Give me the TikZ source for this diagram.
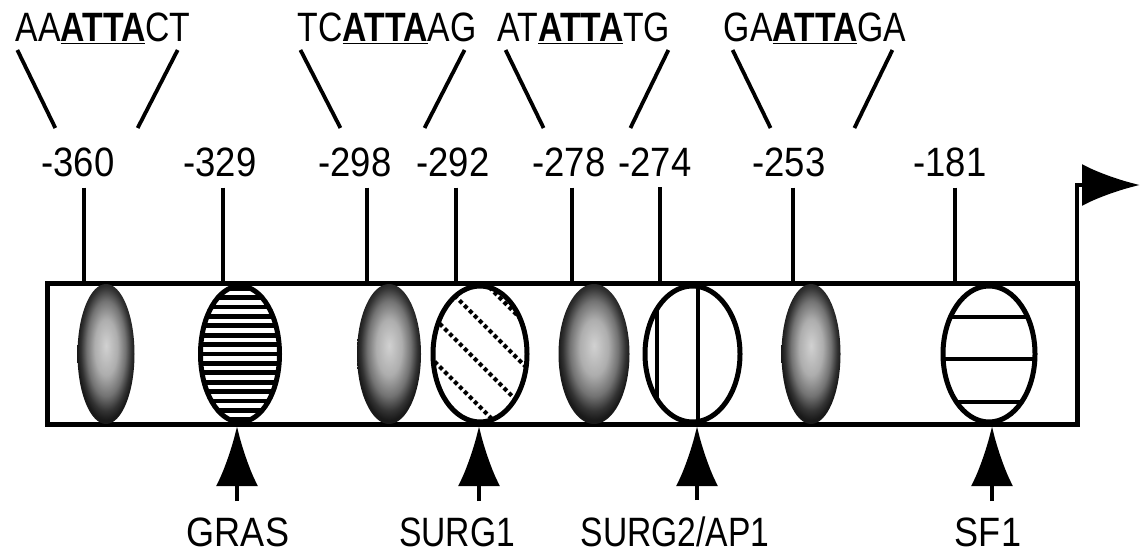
\documentclass[tikz,border=0pt]{standalone}
\usepackage{fontspec}
\setmainfont{Liberation Sans}
\usetikzlibrary{positioning,arrows.meta,shapes.geometric,calc}
\newcommand{\nrw}[2]{\scalebox{#1}[1]{#2}}
\newcommand{\core}[1]{\underline{\textbf{#1}}}
\pgfdeclareradialshading{blobshade}{\pgfpoint{0bp}{3bp}}{color(0bp)=(black!18); color(10bp)=(black!32); color(17bp)=(black!55); color(22bp)=(black!80); color(25bp)=(black!90); color(50bp)=(black!90)}

\begin{document}
\begin{tikzpicture}[x=1pt,y=-1pt,font=\fontsize{41}{41}\selectfont,
  box/.style={draw,line width=5pt,inner sep=0pt,outer sep=0pt,minimum width=1030pt,minimum height=140pt},
  num/.style={inner sep=0pt,anchor=base},
  seq/.style={inner sep=0pt,anchor=base},
  tf/.style={inner sep=0pt,anchor=base},
  tickln/.style={line width=3.8pt},
  diag/.style={line width=3.8pt},
  blob/.style={ellipse,inner sep=0pt,minimum height=140pt,shading=blobshade},
  elem/.style={ellipse,draw,line width=5pt,inner sep=0pt,minimum height=136pt,fill=white},
  uparr/.style={-{Latex[length=60pt,width=42pt]},line width=4.5pt}]
  \useasboundingbox (0,0) rectangle (1140,553);

  % promoter
  \node[box] (box) at (562,354) {};

  % binding sites
  \node[blob,minimum width=57pt] (b360) at (106,354) {};
  \node[elem,minimum width=79pt,path picture={
      \foreach \k in {-7,...,7}
        \draw[line width=4.8pt,shift={(path picture bounding box.center)}] (-60,\k*9.4) -- (60,\k*9.4);}] (e329) at (240,354) {};
  \node[blob,minimum width=64pt] (b298) at (389,354) {};
  \node[elem,minimum width=94pt,path picture={
      \foreach \c in {-76,-33,10,53}
        \draw[line width=4.2pt,dash pattern=on 4pt off 3pt,shift={(path picture bounding box.center)}] (-80,-80+\c) -- (80,80+\c);}] (e292) at (480,354) {};
  \node[blob,minimum width=71pt] (b278) at (594,354) {};
  \node[elem,minimum width=95pt,path picture={
      \draw[line width=4.5pt,shift={(path picture bounding box.center)}] (5.5,-80) -- (5.5,80) (-35.5,-80) -- (-35.5,80);}] (e274) at (692.5,354) {};
  \node[blob,minimum width=59pt] (b253) at (811,354) {};
  \node[elem,minimum width=92pt,path picture={
      \draw[line width=4.5pt,shift={(path picture bounding box.center)}] (-60,-37) -- (60,-37) (-60,5) -- (60,5) (-60,48) -- (60,48);}] (e181) at (989,354) {};

  % positions
  \coordinate (t360) at (84,284);
  \coordinate (t329) at (223,284);
  \coordinate (t298) at (367,284);
  \coordinate (t292) at (456,284);
  \coordinate (t278) at (572,284);
  \coordinate (t274) at (660,284);
  \coordinate (t253) at (793,284);
  \coordinate (t181) at (955,284);
  \node[num] (n360) at (78,177) {\nrw{0.89}{-360}};
  \node[num] (n329) at (220,177) {\nrw{0.89}{-329}};
  \node[num] (n298) at (355,177) {\nrw{0.89}{-298}};
  \node[num] (n292) at (453,177) {\nrw{0.89}{-292}};
  \node[num] (n278) at (569,177) {\nrw{0.89}{-278}};
  \node[num] (n274) at (655,177) {\nrw{0.89}{-274}};
  \node[num] (n253) at (789,177) {\nrw{0.89}{-253}};
  \node[num] (n181) at (950,177) {\nrw{0.89}{-181}};
  \draw[tickln] ($(t360 |- n360.south)+(0,10)$) -- (t360);
  \draw[tickln] ($(t329 |- n329.south)+(0,10)$) -- (t329);
  \draw[tickln] ($(t298 |- n298.south)+(0,10)$) -- (t298);
  \draw[tickln] ($(t292 |- n292.south)+(0,10)$) -- (t292);
  \draw[tickln] ($(t278 |- n278.south)+(0,10)$) -- (t278);
  \draw[tickln] ($(t274 |- n274.south)+(0,10)$) -- (t274);
  \draw[tickln] ($(t253 |- n253.south)+(0,10)$) -- (t253);
  \draw[tickln] ($(t181 |- n181.south)+(0,10)$) -- (t181);

  % ATTA motifs
  \node[seq] (sq1) at (103,42) {\nrw{0.823}{AA\core{ATTA}CT}};
  \node[seq] (sq2) at (387,42) {\nrw{0.823}{TC\core{ATTA}AG}};
  \node[seq] (sq3) at (584,42) {\nrw{0.823}{AT\core{ATTA}TG}};
  \node[seq] (sq4) at (815,42) {\nrw{0.823}{GA\core{ATTA}GA}};
  \draw[diag] ($(sq1.base west)+(2,8)$) -- ($(sq1.base west)+(40,86)$);
  \draw[diag] ($(sq1.base east)+(-13,8)$) -- ($(sq1.base east)+(-53,86)$);
  \draw[diag] ($(sq2.base west)+(3,8)$) -- ($(sq2.base west)+(43,86)$);
  \draw[diag] ($(sq2.base east)+(-12,8)$) -- ($(sq2.base east)+(-52,86)$);
  \draw[diag] ($(sq3.base west)+(8,8)$) -- ($(sq3.base west)+(46,86)$);
  \draw[diag] ($(sq3.base east)+(-2,8)$) -- ($(sq3.base east)+(-40,86)$);
  \draw[diag] ($(sq4.base west)+(9,8)$) -- ($(sq4.base west)+(47,86)$);
  \draw[diag] ($(sq4.base east)+(-14,8)$) -- ($(sq4.base east)+(-52,86)$);

  % transcription start
  \coordinate (tss) at (1140,185);
  \draw[line width=4.5pt,-{Latex[length=58pt,width=42pt]}] (box.north east) |- (tss);

  % factors
  \coordinate (pGRAS) at (237,426);
  \coordinate (pSURG1) at (479,426);
  \coordinate (pSURG2) at (697,426);
  \coordinate (pSF1) at (992,426);
  \node[tf] (lGRAS) at (238,546) {\nrw{0.88}{GRAS}};
  \node[tf] (lSURG1) at (457,546) {\nrw{0.82}{SURG1}};
  \node[tf] (lSURG2) at (675,546) {\nrw{0.82}{SURG2/AP1}};
  \node[tf] (lSF1) at (988,546) {\nrw{0.88}{SF1}};
  \draw[uparr] ($(pGRAS |- lGRAS.north)+(0,-16)$) -- (pGRAS);
  \draw[uparr] ($(pSURG1 |- lSURG1.north)+(0,-16)$) -- (pSURG1);
  \draw[uparr] ($(pSURG2 |- lSURG2.north)+(0,-16)$) -- (pSURG2);
  \draw[uparr] ($(pSF1 |- lSF1.north)+(0,-16)$) -- (pSF1);
\end{tikzpicture}
\end{document}
